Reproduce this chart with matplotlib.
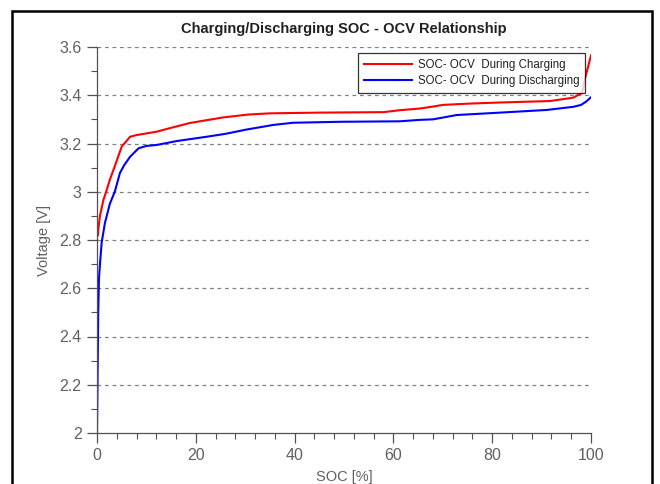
import matplotlib
matplotlib.use("Agg")
import matplotlib.pyplot as plt
from matplotlib.patches import Rectangle
from matplotlib.ticker import MultipleLocator

plt.rcParams['font.family'] = ['Liberation Sans', 'DejaVu Sans']

# Charging SOC-OCV curve (red)
soc_charge = [0.2, 0.3, 0.6, 1.3, 1.96, 2.6, 3.5, 5.0, 6.7, 8.0, 12.1, 15.0, 18.8,
              25.5, 30.6, 35.0, 45.0, 58.0, 61.3, 65.4, 68.0, 70.0, 75.0, 81.6,
              91.7, 96.4, 98.2, 98.8, 100.0]
ocv_charge = [2.82, 2.85, 2.90, 2.966, 3.007, 3.05, 3.10, 3.187, 3.228, 3.235, 3.249,
              3.265, 3.285, 3.308, 3.32, 3.325, 3.328, 3.33, 3.338, 3.345, 3.353,
              3.36, 3.365, 3.37, 3.376, 3.39, 3.41, 3.47, 3.565]

# Discharging SOC-OCV curve (blue)
soc_discharge = [0.0, 0.15, 0.25, 0.4, 0.6, 0.95, 1.6, 2.6, 3.6, 4.65, 5.5, 6.7, 8.4,
                 10.0, 12.1, 16.1, 22.2, 26.0, 30.3, 35.7, 39.7, 49.2, 61.3, 65.4,
                 68.0, 72.8, 81.6, 91.0, 96.4, 98.0, 99.1, 100.0]
ocv_discharge = [2.0, 2.3, 2.5, 2.64, 2.70, 2.79, 2.87, 2.95, 3.0, 3.078, 3.11, 3.145,
                 3.18, 3.19, 3.194, 3.21, 3.228, 3.24, 3.258, 3.277, 3.286, 3.29,
                 3.292, 3.298, 3.30, 3.318, 3.328, 3.339, 3.352, 3.36, 3.375, 3.392]

title = "Charging/Discharging SOC - OCV Relationship"
labels = ["SOC- OCV  During Charging", "SOC- OCV  During Discharging"]
xticks = [0, 20, 40, 60, 80, 100]
yticks = [2, 2.2, 2.4, 2.6, 2.8, 3, 3.2, 3.4, 3.6]
ytick_labels = ["2", "2.2", "2.4", "2.6", "2.8", "3", "3.2", "3.4", "3.6"]

W, H = 660, 484
fig = plt.figure(figsize=(W / 100, H / 100), dpi=100)
ax = fig.add_axes([97 / W, 1 - 433 / H, (591 - 97) / W, (433 - 47) / H])

ax.plot(soc_charge, ocv_charge, color='#ff0000', lw=1.5, label=labels[0])
ax.plot(soc_discharge, ocv_discharge, color='#0000ff', lw=1.5, label=labels[1])

ax.set_xlim(0, 100)
ax.set_ylim(2, 3.6)
ax.set_xticks(xticks)
ax.set_yticks(yticks)
ax.set_yticklabels(ytick_labels)
ax.xaxis.set_minor_locator(MultipleLocator(4))
ax.yaxis.set_minor_locator(MultipleLocator(0.1))

tick_col = '#606060'
spine_col = '#505050'
ax.tick_params(axis='both', which='major', direction='out', length=7, width=0.9,
               colors=spine_col, labelcolor=tick_col, labelsize=11.5, pad=4)
ax.tick_params(axis='both', which='minor', direction='out', length=4, width=0.8,
               colors=spine_col)
for s in ['top', 'right']:
    ax.spines[s].set_visible(False)
for s in ['left', 'bottom']:
    ax.spines[s].set_color(spine_col)
    ax.spines[s].set_linewidth(0.9)

for yv in yticks[1:]:
    ax.axhline(yv, color='#808080', lw=0.9, ls=(0, (3, 3)), zorder=0)

ax.set_xlabel("SOC [%]", color=tick_col, fontsize=10.5, labelpad=5)
ax.set_ylabel("Voltage [V]", color=tick_col, fontsize=10.5, labelpad=6)

fig.text(344 / W, 1 - 29 / H, title, ha='center', va='center',
         fontsize=10.5, fontweight='bold', color='#202020')

leg = ax.legend(loc='upper right', bbox_to_anchor=(585 / W, 1 - 53 / H),
                bbox_transform=fig.transFigure, borderaxespad=0, fontsize=8.3,
                frameon=True, fancybox=False, handlelength=4.2, handletextpad=0.45,
                labelspacing=0.4, borderpad=0.5)
leg.get_frame().set_edgecolor('black')
leg.get_frame().set_linewidth(0.9)
for t in leg.get_texts():
    t.set_color('#202020')

fig.patches.append(Rectangle((12 / W, -0.05), (652 - 12) / W, 1 - 11 / H + 0.05,
                             transform=fig.transFigure, fill=False,
                             edgecolor='black', lw=1.8))

fig.savefig("out.png", dpi=100)
